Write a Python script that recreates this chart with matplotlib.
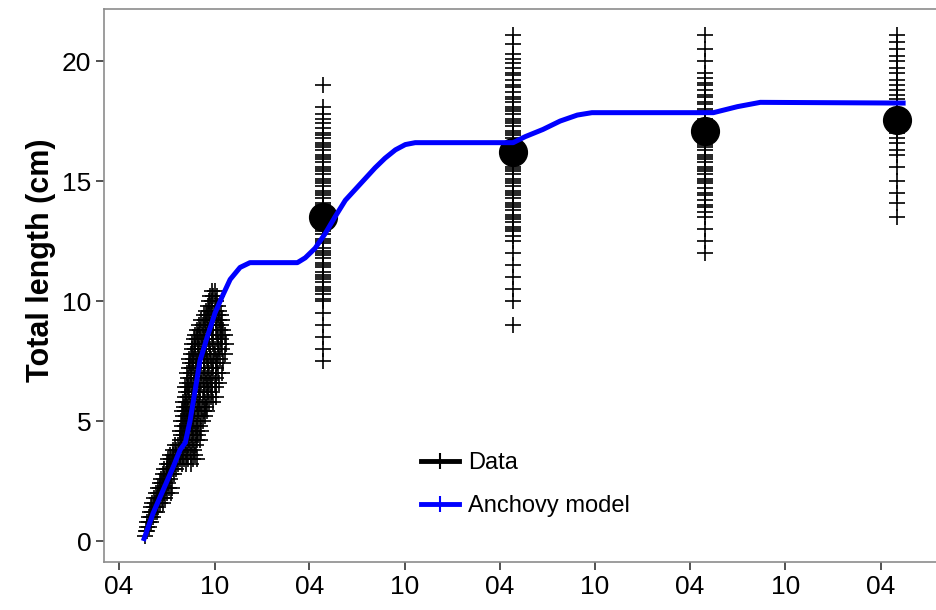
import matplotlib
matplotlib.use("Agg")
import matplotlib.pyplot as plt
import matplotlib.dates as mdates
from matplotlib.lines import Line2D
import numpy as np

plt.rcParams['font.family'] = ['Liberation Sans', 'DejaVu Sans']

# reference date: first tick of the axis (April, year 0)
start = np.datetime64('2000-04-01')

# juvenile samples, grouped by total length (cm): sampling days after start
juv_len = [0.2, 0.4, 0.6, 0.8, 1.0, 1.2, 1.4, 1.6, 1.8, 2.0, 2.2, 2.4, 2.6, 2.8, 3.0,
           3.2, 3.4, 3.6, 3.8, 4.0, 4.2, 4.4, 4.6, 4.8, 5.0, 5.2, 5.4, 5.6, 5.8, 6.0,
           6.2, 6.4, 6.6, 6.8, 7.0, 7.2, 7.4, 7.6, 7.8, 8.0, 8.2, 8.4, 8.6, 8.8, 9.0,
           9.2, 9.4, 9.6, 9.8, 10.0, 10.2, 10.4]
juv_days = [
    [49],
    [51, 54],
    [53, 57],
    [54, 58, 62],
    [57, 61, 65],
    [59, 64, 68, 72],
    [62, 66, 71, 75],
    [64, 69, 73, 78, 84],
    [67, 72, 77, 82, 88],
    [71, 75, 80, 86, 92, 99],
    [74, 79, 84, 89, 95, 101],
    [78, 83, 88, 93],
    [81, 86, 91, 97],
    [84, 89, 94, 100, 105],
    [87, 92, 98, 103, 109],
    [91, 96, 101, 107, 113, 121, 129, 137],
    [94, 99, 105, 111, 117, 125, 133, 141, 149],
    [98, 104, 110, 116, 122, 130, 138, 146],
    [103, 109, 115, 121, 128, 136, 143],
    [107, 113, 119, 126, 133, 140, 148],
    [116, 121, 127, 134, 141, 149, 156],
    [118, 124, 130, 137, 145, 152],
    [117, 123, 129, 135, 142, 150, 158],
    [120, 126, 133, 139, 147, 155],
    [119, 125, 131, 138, 144, 152, 160],
    [122, 128, 135, 141, 149, 157, 165],
    [121, 127, 133, 140, 146, 154, 162, 169],
    [124, 130, 137, 144, 151, 159, 167],
    [123, 129, 136, 142, 149, 156, 164, 172, 180],
    [126, 132, 139, 146, 153, 161, 169, 177, 185],
    [128, 134, 141, 148, 155, 163, 171, 179],
    [127, 133, 140, 147, 154, 162, 170, 178, 186],
    [130, 136, 143, 150, 158, 166, 174, 183, 192],
    [132, 138, 145, 152, 160, 168, 176, 185],
    [131, 137, 144, 151, 158, 165, 173, 181, 189, 197],
    [134, 140, 147, 154, 162, 170, 178, 186],
    [136, 142, 149, 156, 163, 171, 180, 188, 199],
    [135, 141, 148, 155, 162, 169, 177, 185, 193],
    [138, 144, 151, 158, 166, 174, 182, 190, 203],
    [140, 146, 153, 160, 167, 175, 183, 191, 197],
    [139, 145, 152, 159, 166, 173, 181, 189, 196, 205],
    [143, 149, 156, 163, 171, 179, 187, 195],
    [146, 152, 159, 166, 173, 181, 189, 197, 203],
    [150, 156, 163, 170, 178, 186, 194, 199],
    [154, 160, 167, 174, 181, 188, 196],
    [158, 164, 171, 178, 185, 192, 198],
    [162, 168, 175, 182, 189, 195],
    [166, 172, 179, 186, 192],
    [170, 176, 183, 189],
    [172, 178, 185],
    [175, 181, 187],
    [178, 184],
]

# spring surveys of the adults: sampling date and lengths (cm)
survey_date = ['2001-04-28', '2002-04-26', '2003-04-30', '2004-05-02']
len_y1 = [7.5, 8.0, 8.5, 9.0, 9.5, 10.0, 10.1, 10.3, 10.4, 10.5, 10.6, 10.8, 10.9, 11.0,
          11.1, 11.2, 11.4, 11.5, 11.6, 11.8, 11.9, 12.0, 12.1, 12.2, 12.4, 12.5, 12.6,
          12.8, 12.9, 13.0, 13.1, 13.3, 13.4, 13.5, 13.6, 13.8, 13.9, 14.0, 14.1, 14.3,
          14.4, 14.5, 14.6, 14.8, 14.9, 15.0, 15.1, 15.3, 15.4, 15.5, 15.6, 15.8, 15.9,
          16.0, 16.1, 16.3, 16.4, 16.5, 16.6, 16.8, 16.9, 17.0, 17.2, 17.4, 17.6, 17.8,
          18.1, 19.0]
len_y2 = [9.0, 10.0, 10.5, 11.0, 11.5, 12.0, 12.5, 12.7, 12.9, 13.0, 13.1, 13.3, 13.4,
          13.5, 13.6, 13.8, 13.9, 14.0, 14.1, 14.3, 14.4, 14.5, 14.6, 14.8, 14.9, 15.0,
          15.1, 15.3, 15.4, 15.5, 15.6, 15.8, 15.9, 16.0, 16.1, 16.3, 16.4, 16.5, 16.6,
          16.8, 16.9, 17.0, 17.1, 17.3, 17.4, 17.5, 17.6, 17.8, 17.9, 18.0, 18.1, 18.3,
          18.4, 18.5, 18.7, 18.9, 19.0, 19.2, 19.4, 19.5, 19.7, 19.9, 20.1, 20.3, 20.7,
          21.1]
len_y3 = [12.0, 12.5, 13.0, 13.5, 13.7, 13.9, 14.0, 14.2, 14.4, 14.5, 14.7, 14.9, 15.0,
          15.1, 15.3, 15.4, 15.5, 15.6, 15.8, 15.9, 16.0, 16.1, 16.3, 16.4, 16.5, 16.6,
          16.8, 16.9, 17.0, 17.1, 17.3, 17.4, 17.5, 17.6, 17.8, 17.9, 18.0, 18.2, 18.3,
          18.5, 18.6, 18.8, 19.0, 19.1, 19.3, 19.5, 20.0, 20.5, 21.1]
len_y4 = [13.5, 14.1, 14.5, 15.0, 15.6, 16.1, 16.3, 16.6, 16.8, 17.0, 17.2, 17.4, 17.6,
          17.8, 18.0, 18.2, 18.4, 18.6, 18.8, 19.0, 19.2, 19.5, 19.7, 20.0, 20.2, 20.5,
          20.8, 21.1]
mean_len = [13.5, 16.2, 17.1, 17.55]

# anchovy growth model: days after start, length (cm)
model_day = [48, 65, 84, 104, 117, 127, 136, 146, 155, 169, 184, 198, 213, 232, 251,
             342, 357, 376, 395, 414, 434, 453, 472, 491, 510, 530, 549, 568,
             756, 779, 813, 846, 879, 907, 1140, 1186, 1230, 1504]
model_len = [0.1, 1.15, 2.1, 3.1, 3.8, 4.1, 5.0, 6.3, 7.5, 8.5, 9.5, 10.2, 10.9, 11.4, 11.6,
             11.6, 11.8, 12.2, 12.8, 13.5, 14.2, 14.65, 15.1, 15.55, 15.95, 16.3, 16.52, 16.6,
             16.6, 16.85, 17.15, 17.5, 17.75, 17.85, 17.85, 18.1, 18.28, 18.25]


def to_dates(days):
    return start + np.array(days).astype('timedelta64[D]')


fig = plt.figure(figsize=(9.37, 6.1), dpi=100)
ax = fig.add_axes([104 / 937, 48 / 610, 833 / 937, 553 / 610])

mk = dict(marker='+', linestyle='none', color='black', markersize=11, markeredgewidth=1.2)

# juvenile data
jx = [d for days in juv_days for d in days]
jy = [L for L, days in zip(juv_len, juv_days) for _ in days]
ax.plot(to_dates(jx), jy, **mk)

# adult surveys + means
for d, lens in zip(survey_date, [len_y1, len_y2, len_y3, len_y4]):
    ax.plot(np.full(len(lens), np.datetime64(d)), lens, **mk)
ax.plot(np.array(survey_date, dtype='datetime64[D]'), mean_len, 'o', color='black',
        markersize=20)

ax.plot(to_dates(model_day), model_len, color='#0000ff', linewidth=3.6)

ax.set_xlim(np.datetime64('2000-03-03'), np.datetime64('2004-07-18'))
ax.set_ylim(-0.875, 22.17)
ax.set_yticks([0, 5, 10, 15, 20])
ax.xaxis.set_major_locator(mdates.MonthLocator(bymonth=[4, 10]))
ax.xaxis.set_major_formatter(mdates.DateFormatter('%m'))
ax.tick_params(labelsize=19, length=6, width=1.2, color='#333333', pad=3)
ax.set_ylabel('Total length (cm)', fontsize=22, fontweight='bold')
ax.yaxis.set_label_coords(-0.058, 0.546)

for side in ['left', 'bottom', 'top']:
    ax.spines[side].set_color('#8c8c8c')
    ax.spines[side].set_linewidth(1.2)
ax.spines['right'].set_visible(False)

handles = [Line2D([], [], color='black', lw=3.5, marker='+', markersize=11, mew=1.5),
           Line2D([], [], color='#0000ff', lw=3.5, marker='+', markersize=11, mew=1.5)]
ax.legend(handles, ['Data', 'Anchovy model'], loc='upper left',
          bbox_to_anchor=(0.355, 0.237), frameon=False, fontsize=17,
          handlelength=1.6, handletextpad=0.38, labelspacing=0.9)

fig.savefig('out.png', dpi=100)
